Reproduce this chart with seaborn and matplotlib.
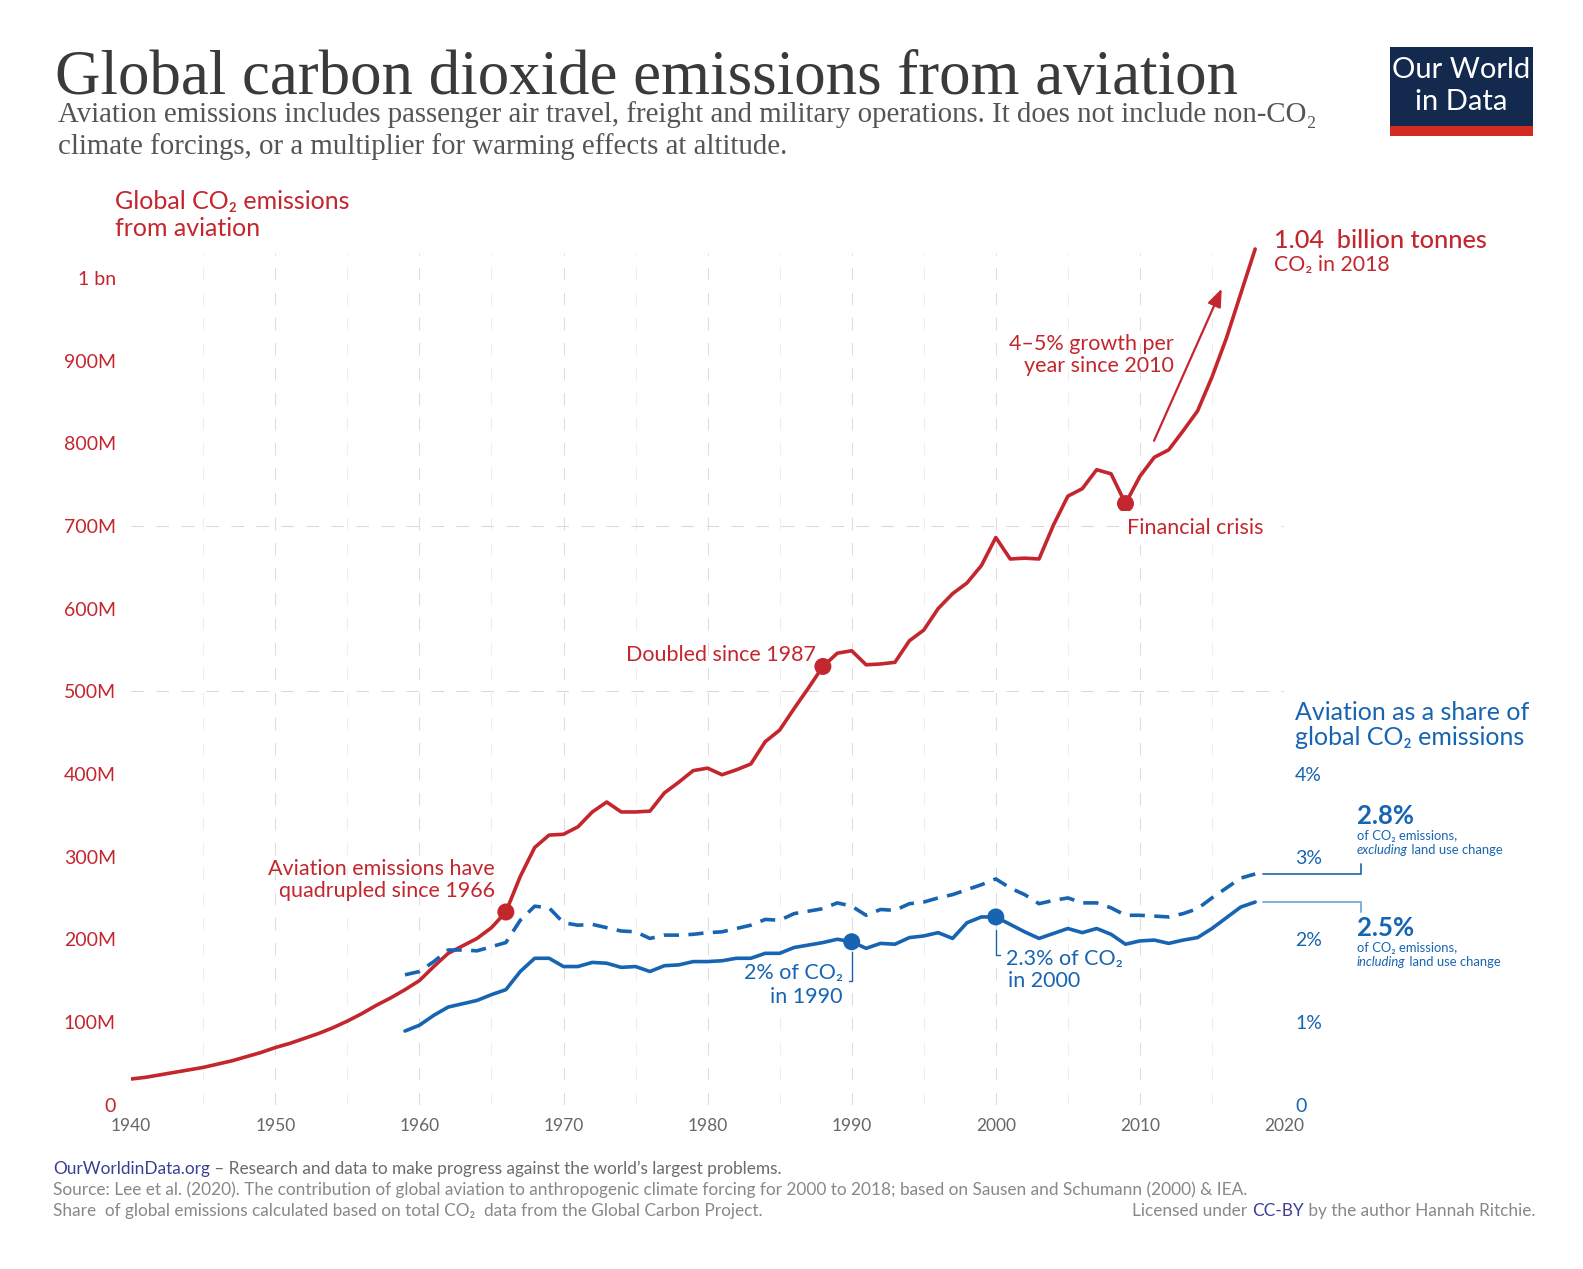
import matplotlib
matplotlib.use("Agg")
import matplotlib.pyplot as plt
import numpy as np
import pandas as pd
import seaborn as sns
from matplotlib.patches import Rectangle

# ---------------- data ----------------
years_co2 = list(range(1940, 2019))
co2_mt = [31, 33, 36, 39, 42, 45, 49, 53, 58, 63,
          69, 74, 80, 86, 93, 101, 110, 120, 129, 139,
          150, 167, 183, 192, 201, 214, 233, 276, 311, 326,
          327, 336, 354, 366, 354, 354, 355, 377, 390, 404,
          407, 399, 405, 412, 439, 453, 479, 504, 530, 546,
          549, 532, 533, 535, 561, 574, 600, 618, 631, 652,
          686, 660, 661, 660, 701, 736, 745, 768, 763, 727,
          760, 783, 792, 815, 839, 880, 927, 981, 1035]

years_share = list(range(1959, 2019))
share_incl_luc = [0.89, 0.96, 1.08, 1.18, 1.22, 1.26, 1.33, 1.39, 1.61, 1.77,
                  1.77, 1.67, 1.67, 1.72, 1.71, 1.66, 1.67, 1.61, 1.68, 1.69,
                  1.73, 1.73, 1.74, 1.77, 1.77, 1.83, 1.83, 1.90, 1.93, 1.96,
                  2.00, 1.97, 1.89, 1.95, 1.94, 2.02, 2.04, 2.08, 2.01, 2.20,
                  2.27, 2.27, 2.18, 2.09, 2.01, 2.07, 2.13, 2.08, 2.13, 2.06,
                  1.94, 1.98, 1.99, 1.95, 1.99, 2.02, 2.13, 2.26, 2.39, 2.45]
share_excl_luc = [1.57, 1.61, 1.73, 1.87, 1.87, 1.86, 1.91, 1.96, 2.23, 2.40,
                  2.38, 2.20, 2.17, 2.18, 2.14, 2.10, 2.09, 2.01, 2.05, 2.05,
                  2.06, 2.08, 2.09, 2.13, 2.17, 2.24, 2.23, 2.31, 2.34, 2.37,
                  2.44, 2.40, 2.29, 2.36, 2.35, 2.43, 2.45, 2.50, 2.54, 2.60,
                  2.66, 2.73, 2.62, 2.54, 2.43, 2.47, 2.50, 2.44, 2.44, 2.38,
                  2.29, 2.29, 2.28, 2.27, 2.31, 2.37, 2.50, 2.62, 2.74, 2.79]

red_marker_years = [1966, 1988, 2009]
blue_marker_years = [1990, 2000]

co2_ticks = [0, 100, 200, 300, 400, 500, 600, 700, 800, 900, 1000]
co2_tick_labels = ["0", "100M", "200M", "300M", "400M", "500M", "600M",
                   "700M", "800M", "900M", "1 bn"]
share_ticks = [0, 1, 2, 3, 4]
share_tick_labels = ["0", "1%", "2%", "3%", "4%"]
year_ticks = list(range(1940, 2021, 10))

# ---------------- style ----------------
RED = "#c4262e"
BLUE = "#1765b2"
LIGHT_BLUE = "#7eb0dc"
GRAY = "#666666"
W, H = 1583, 1269

sns.set_theme(style="white")
plt.rcParams["font.family"] = ["Lato", "DejaVu Sans"]

fig = plt.figure(figsize=(W / 100, H / 100), dpi=100)
fig.patch.set_facecolor("white")


def fx(x):
    return x / W


def fy(y):
    return 1 - y / H


# axes placement (pixels)
X0, X1 = 131.2, 1284.0          # 1940 and 2020
Y0 = 1104.6                     # value 0
PX100 = 82.67                   # pixels per 100M (and per 1 %)
YMAX = 1100
ytop = Y0 - YMAX * PX100 / 100
ax = fig.add_axes([fx(X0), fy(Y0), (X1 - X0) / W, (Y0 - ytop) / H])
ax.set_facecolor("none")

# grid lines
for yr in range(1945, 2020, 5):
    c = "#dcdcdc" if yr % 10 == 0 else "#eeeeee"
    ax.vlines(yr, 0, 1030, colors=c, lw=0.75, linestyles=(0, (12, 12)), zorder=0)
for v in [500, 700]:
    ax.hlines(v, 1940, 2020, colors="#d8d8d8", lw=0.75, linestyles=(0, (12, 12)), zorder=0)

df_co2 = pd.DataFrame({"year": years_co2, "co2": co2_mt})
sns.lineplot(data=df_co2, x="year", y="co2", ax=ax, color=RED, lw=2.6,
             errorbar=None, solid_capstyle="round", solid_joinstyle="round", zorder=3)
mk = df_co2[df_co2.year.isin(red_marker_years)]
sns.scatterplot(data=mk, x="year", y="co2", ax=ax, color=RED, s=150,
                edgecolor="none", zorder=5, legend=False)

ax2 = ax.twinx()
ax2.set_facecolor("none")
df_sh = pd.DataFrame({"year": years_share, "incl": share_incl_luc, "excl": share_excl_luc})
sns.lineplot(data=df_sh, x="year", y="excl", ax=ax2, color=BLUE, lw=2.6, errorbar=None,
             dashes=(4.2, 2.6), dash_capstyle="butt", zorder=3)
sns.lineplot(data=df_sh, x="year", y="incl", ax=ax2, color=BLUE, lw=2.6, errorbar=None,
             solid_capstyle="round", solid_joinstyle="round", zorder=3)
bm = df_sh[df_sh.year.isin(blue_marker_years)]
sns.scatterplot(data=bm, x="year", y="incl", ax=ax2, color=BLUE, s=150,
                edgecolor="none", zorder=5, legend=False)

for a in (ax, ax2):
    a.set_xlim(1940, 2020)
    for s in a.spines.values():
        s.set_visible(False)
    a.grid(False)
    a.set_xlabel("")
    a.set_ylabel("")
ax.set_ylim(0, YMAX)
ax2.set_ylim(0, YMAX / 100)

ax.set_yticks(co2_ticks)
ax.set_yticklabels(co2_tick_labels)
ax.tick_params(axis="y", length=0, pad=11, labelcolor=RED, labelsize=14)
ax.set_xticks(year_ticks)
ax.set_xticklabels([str(y) for y in year_ticks])
ax.tick_params(axis="x", length=0, pad=10, labelcolor=GRAY, labelsize=12.5)
ax2.set_yticks(share_ticks)
ax2.set_yticklabels(share_tick_labels)
ax2.tick_params(axis="y", length=0, pad=8, labelcolor=BLUE, labelsize=14)

# ---------------- titles ----------------
fig.text(fx(55), fy(94), "Global carbon dioxide emissions from aviation",
         family=["Liberation Serif", "DejaVu Serif"], fontsize=45.3, color="#3a3a3a",
         va="baseline", ha="left")
sub_kw = dict(family=["Liberation Serif", "DejaVu Serif"], fontsize=20.8, color="#555555",
              va="baseline", ha="left")
fig.text(fx(58), fy(122), "Aviation emissions includes passenger air travel, freight and military "
         "operations. It does not include non-CO₂", **sub_kw)
fig.text(fx(58), fy(154.5), "climate forcings, or a multiplier for warming effects at altitude.",
         **sub_kw)

# logo
fig.patches.append(Rectangle((fx(1390), fy(136)), (1533 - 1390) / W, (136 - 47) / H,
                             transform=fig.transFigure, facecolor="#132a4e", edgecolor="none"))
fig.patches.append(Rectangle((fx(1390), fy(136)), (1533 - 1390) / W, 10 / H,
                             transform=fig.transFigure, facecolor="#d42b21", edgecolor="none"))
fig.text(fx(1461.5), fy(70), "Our World", color="white", fontsize=21, ha="center", va="center")
fig.text(fx(1461.5), fy(102), "in Data", color="white", fontsize=21, ha="center", va="center")

# axis titles
lab_kw = dict(fontsize=18, va="center")
fig.text(fx(115), fy(202), "Global CO₂ emissions", color=RED, ha="left", **lab_kw)
fig.text(fx(115), fy(229), "from aviation", color=RED, ha="left", **lab_kw)
fig.text(fx(1295), fy(712), "Aviation as a share of", color=BLUE, ha="left", **lab_kw)
fig.text(fx(1295), fy(738), "global CO₂ emissions", color=BLUE, ha="left", **lab_kw)

# ---------------- annotations ----------------
ann_kw = dict(fontsize=15.5, va="center")
fig.text(fx(495), fy(869), "Aviation emissions have", color=RED, ha="right", **ann_kw)
fig.text(fx(495), fy(891), "quadrupled since 1966", color=RED, ha="right", **ann_kw)
fig.text(fx(816), fy(655), "Doubled since 1987", color=RED, ha="right", **ann_kw)
fig.text(fx(1127), fy(528), "Financial crisis", color=RED, ha="left",
         bbox=dict(facecolor="white", edgecolor="none", pad=5), **ann_kw)
fig.text(fx(1174), fy(344), "4–5% growth per", color=RED, ha="right", **ann_kw)
fig.text(fx(1174), fy(366), "year since 2010", color=RED, ha="right", **ann_kw)
ax.annotate("", xy=(2015.68, 987), xytext=(2010.98, 803),
            arrowprops=dict(arrowstyle="-|>,head_length=0.9,head_width=0.35",
                            color=RED, lw=1.6, shrinkA=0, shrinkB=0))

fig.text(fx(1274), fy(240), "1.04  billion tonnes", color=RED, ha="left", va="center",
         fontsize=18.2, fontweight="medium")
fig.text(fx(1274), fy(265), "CO₂ in 2018", color=RED, ha="left", va="center",
         fontsize=15.3)

fig.text(fx(843), fy(973), "2% of CO₂", color=BLUE, ha="right", **ann_kw)
fig.text(fx(843), fy(997), "in 1990", color=BLUE, ha="right", **ann_kw)
ax2.plot([1990, 1990, 1989.8], [1.85, 1.49, 1.49], color=BLUE, lw=1)
fig.text(fx(1006), fy(959), "2.3% of CO₂", color=BLUE, ha="left", **ann_kw)
fig.text(fx(1008), fy(981), "in 2000", color=BLUE, ha="left", **ann_kw)
ax2.plot([2000, 2000, 2000.3], [2.11, 1.81, 1.81], color=BLUE, lw=1)

# right-hand leaders
last_excl = share_excl_luc[-1]
last_incl = share_incl_luc[-1]
ax2.plot([2018.55, 2025.35, 2025.35], [last_excl, last_excl, last_excl + 0.12],
         color=BLUE, lw=1.2, clip_on=False)
ax2.plot([2018.55, 2025.35, 2025.35], [last_incl, last_incl, last_incl - 0.12],
         color=LIGHT_BLUE, lw=1.4, clip_on=False)

fig.canvas.draw()
renderer = fig.canvas.get_renderer()


def rich(x_px, y_px, parts, ha="left", va="center", **common):
    texts, widths = [], []
    for s, kw in parts:
        opts = dict(common)
        opts.update(kw)
        t = fig.text(0, 0, s, va=va, ha="left", **opts)
        widths.append(t.get_window_extent(renderer).width)
        texts.append(t)
    x = x_px
    total = sum(widths)
    if ha == "right":
        x = x_px - total
    for t, w in zip(texts, widths):
        t.set_position((fx(x), fy(y_px)))
        x += w


fig.text(fx(1357), fy(816), "2.8%", color=BLUE, fontsize=18.5, fontweight="bold",
         ha="left", va="center")
fig.text(fx(1357), fy(836), "of CO₂ emissions,", color=BLUE, fontsize=9.4, ha="left", va="center")
rich(1357, 850, [("excluding", dict(style="italic")), (" land use change", {})],
     color=BLUE, fontsize=9.4)
fig.text(fx(1357), fy(928), "2.5%", color=BLUE, fontsize=18.5, fontweight="bold",
         ha="left", va="center")
fig.text(fx(1357), fy(948), "of CO₂ emissions,", color=BLUE, fontsize=9.4, ha="left", va="center")
rich(1357, 962, [("including", dict(style="italic")), (" land use change", {})],
     color=BLUE, fontsize=9.4)

# ---------------- footer ----------------
FOOT = "#6b6b6b"
LINK = "#3b3f94"
foot_kw = dict(fontsize=12.4)
rich(53, 1169, [("OurWorldinData.org", dict(color=LINK)),
                (" – Research and data to make progress against the world’s largest problems.",
                 dict(color=FOOT))], **foot_kw)
fig.text(fx(53), fy(1190), "Source: Lee et al. (2020). The contribution of global aviation to "
         "anthropogenic climate forcing for 2000 to 2018; based on Sausen and Schumann (2000) & IEA.",
         color="#888888", ha="left", va="center", **foot_kw)
fig.text(fx(53), fy(1211), "Share  of global emissions calculated based on total CO₂  data from "
         "the Global Carbon Project.", color="#888888", ha="left", va="center", **foot_kw)
rich(1535, 1211, [("Licensed under ", dict(color="#888888")), ("CC-BY", dict(color=LINK)),
                  (" by the author Hannah Ritchie.", dict(color="#888888"))], ha="right", **foot_kw)

fig.savefig("out.png", dpi=100)
